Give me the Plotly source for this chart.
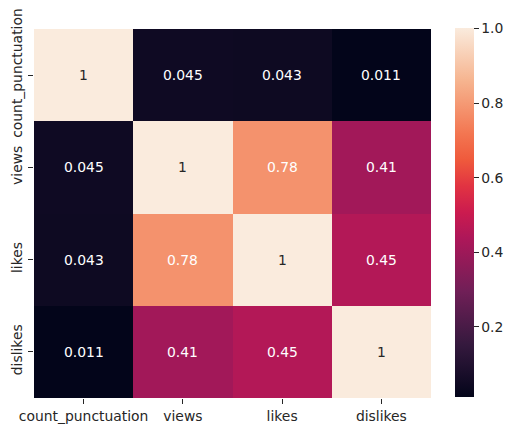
import plotly.graph_objects as go

categories = ["count_punctuation", "views", "likes", "dislikes"]
row_count_punctuation = [1, 0.045, 0.043, 0.011]
row_views = [0.045, 1, 0.78, 0.41]
row_likes = [0.043, 0.78, 1, 0.45]
row_dislikes = [0.011, 0.41, 0.45, 1]
z = [row_count_punctuation, row_views, row_likes, row_dislikes]
colorbar_ticks = [0.2, 0.4, 0.6, 0.8, 1.0]

rocket = [
    [0.0, "#03051A"], [0.143, "#35193E"], [0.286, "#701F57"], [0.429, "#AD1759"],
    [0.5, "#CB1B4F"], [0.571, "#E13342"], [0.643, "#EF5A3C"], [0.714, "#F37651"],
    [0.857, "#F6B48F"], [1.0, "#FAEBDD"],
]
FONT = "DejaVu Sans"
INK = "#262626"
FS = 13.9

# target pixel geometry, page body adds an 8 px offset
OFF = 8
L, R, T, B = 34 - OFF, 431 - OFF, 29 - OFF, 398 - OFF
W, H = 515 - OFF, 432 - OFF

fig = go.Figure(go.Heatmap(
    z=z, x=categories, y=categories,
    zmin=0.011, zmax=1, colorscale=rocket,
    colorbar=dict(
        thickness=19, thicknessmode="pixels", len=B - T, lenmode="pixels",
        xref="container", yref="container",
        x=(455 - OFF) / W, xanchor="left", xpad=0,
        y=1 - ((T + B) / 2 + 30) / H, yanchor="middle", ypad=0,
        outlinewidth=0, tickvals=colorbar_ticks, ticktext=["%.1f" % t for t in colorbar_ticks],
        ticks="outside", ticklen=5, tickwidth=1, tickcolor=INK,
        tickfont=dict(family=FONT, size=FS, color=INK),
    ),
))

annotations = []
for i, row in enumerate(z):
    for j, v in enumerate(row):
        annotations.append(dict(
            x=categories[j], y=categories[i], text=f"{v:.2g}", showarrow=False,
            font=dict(family=FONT, size=FS, color=INK if v > 0.9 else "white"),
        ))

fig.update_layout(
    width=W, height=H, margin=dict(l=L, r=W - R, t=T, b=H - B, pad=0, autoexpand=False),
    paper_bgcolor="white", plot_bgcolor="white", annotations=annotations,
    font=dict(family=FONT, size=FS, color=INK),
)
fig.update_xaxes(automargin=False, ticks="outside", ticklen=5, tickwidth=1, tickcolor=INK, showgrid=False,
                 zeroline=False, tickfont=dict(family=FONT, size=FS, color=INK))
fig.update_yaxes(automargin=False, autorange="reversed", ticks="outside", ticklen=5, tickwidth=1, tickcolor=INK,
                 showgrid=False, zeroline=False, tickangle=-90,
                 tickfont=dict(family=FONT, size=FS, color=INK))
fig.write_html("out.html")
